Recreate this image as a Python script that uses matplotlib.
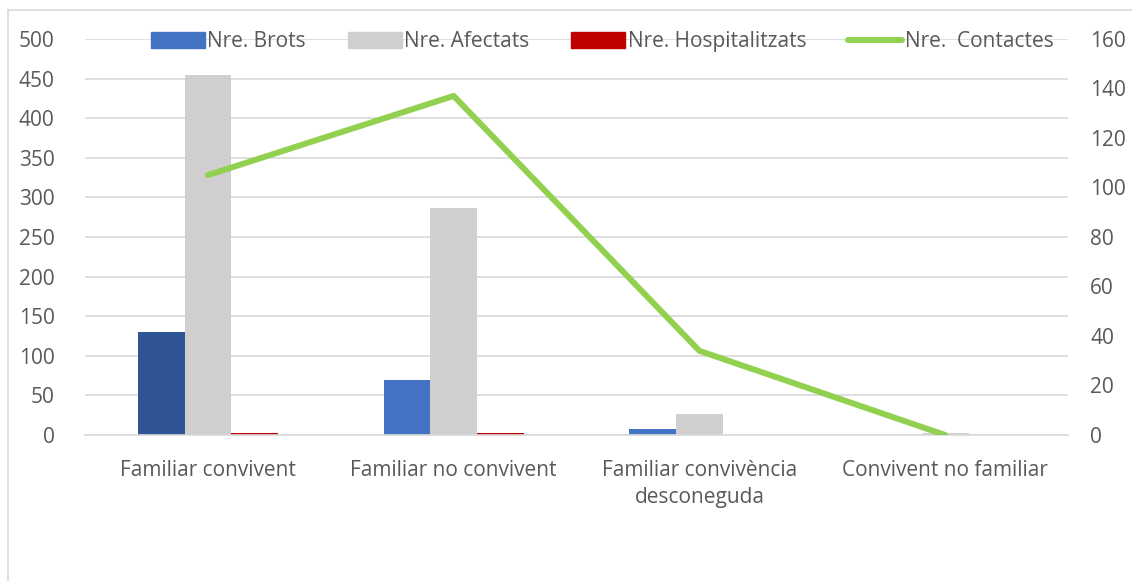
import numpy as np
import matplotlib
matplotlib.use('Agg')
import matplotlib.pyplot as plt
from matplotlib.lines import Line2D

categories = ['Familiar convivent', 'Familiar no convivent',
              'Familiar convivència\ndesconeguda', 'Convivent no familiar']
brots = [130, 69, 7, 0]
afectats = [455, 287, 26, 2]
hospitalitzats = [2, 2, 0, 0]
contactes = [105, 137, 34, 0]

plt.rcParams['font.family'] = ['Open Sans', 'DejaVu Sans']
txt = '#595959'
grid = '#D9D9D9'
fs = 15

fig = plt.figure(figsize=(11.32, 5.81), dpi=100)
ax = fig.add_axes([0.0751, 0.2513, 0.8684, 0.6816])
ax2 = ax.twinx()

x = np.arange(len(categories))
w = 0.19
brot_cols = ['#2F5597'] + ['#4472C4'] * (len(brots) - 1)
ax.bar(x - w, brots, w, color=brot_cols, label='Nre. Brots', zorder=2)
ax.bar(x, afectats, w, color='#D0CECE', label='Nre. Afectats', zorder=2)
ax.bar(x + w, hospitalitzats, w, color='#C00000', label='Nre. Hospitalitzats', zorder=2)
ax2.plot(x, contactes, color='#92D050', lw=4.3, solid_capstyle='round',
         label='Nre.  Contactes')

ax.set_xlim(-0.5, len(categories) - 0.5)
ax.set_ylim(0, 500)
ax.set_yticks(np.arange(0, 501, 50))
ax2.set_ylim(0, 160)
ax2.set_yticks(np.arange(0, 161, 20))
ax.set_xticks(x)
ax.set_xticklabels(categories, linespacing=1.35)
ax.yaxis.grid(True, color=grid, lw=1.2, zorder=0)
ax.set_axisbelow(True)

for a in (ax, ax2):
    for s in a.spines.values():
        s.set_visible(False)
    a.tick_params(length=0, colors=txt, labelsize=fs)
ax.spines['bottom'].set_visible(True)
ax.spines['bottom'].set_color(grid)
ax.spines['bottom'].set_linewidth(1.2)
ax.tick_params(axis='x', pad=18)
ax.tick_params(axis='y', pad=22)
ax2.tick_params(axis='y', pad=16)

handles = [plt.Rectangle((0, 0), 1, 1, color='#4472C4'),
           plt.Rectangle((0, 0), 1, 1, color='#D0CECE'),
           plt.Rectangle((0, 0), 1, 1, color='#C00000'),
           Line2D([], [], color='#92D050', lw=4.3, solid_capstyle='round')]
labels = ['Nre. Brots', 'Nre. Afectats', 'Nre. Hospitalitzats', 'Nre.  Contactes']
leg = fig.legend(handles, labels, loc='center', bbox_to_anchor=(0.532, 0.928),
                 ncol=4, frameon=False, fontsize=fs, handlelength=2.6,
                 handleheight=0.75, handletextpad=0.12, columnspacing=2.0,
                 labelcolor=txt)

# chart frame
fig.add_artist(Line2D([0.007, 1.0], [0.983, 0.983], color='#D9D9D9', lw=1.2))
fig.add_artist(Line2D([0.007, 0.007], [0.0, 0.983], color='#D9D9D9', lw=1.2))

fig.savefig('out.png', dpi=100)
